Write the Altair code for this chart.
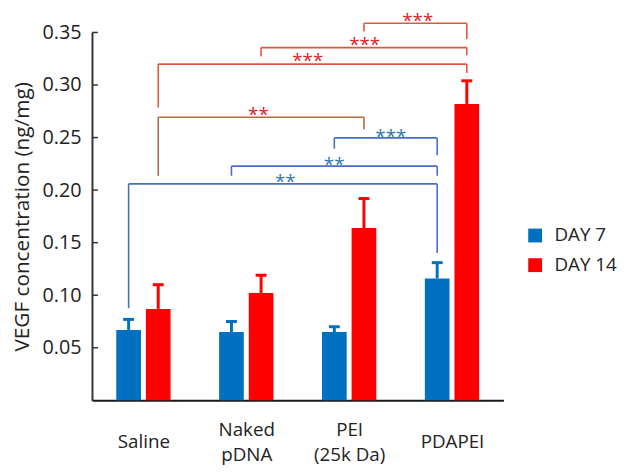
import json
import altair as alt
import pandas as pd

# ---------------- data ----------------
categories = ["Saline", "Naked\npDNA", "PEI\n(25k Da)", "PDAPEI"]
days = ["DAY 7", "DAY 14"]
day7_mean = [0.067, 0.065, 0.065, 0.116]
day7_err = [0.010, 0.010, 0.005, 0.015]
day14_mean = [0.087, 0.102, 0.164, 0.282]
day14_err = [0.023, 0.017, 0.028, 0.022]
y_ticks = [0.05, 0.10, 0.15, 0.20, 0.25, 0.30, 0.35]

# significance brackets: (from cat, from day, to cat, to day, top level,
# left leg end, right leg end, stars, star x (category units), star level, group)
br_from_cat = [2, 1, 0, 0, 2, 1, 0]
br_from_day = [1, 1, 1, 1, 0, 0, 0]
br_to_cat = [3, 3, 3, 2, 3, 3, 3]
br_to_day = [1, 1, 1, 1, 0, 0, 0]
br_top = [0.3587, 0.3356, 0.3199, 0.2694, 0.2497, 0.2228, 0.2059]
br_left_end = [0.3510, 0.3272, 0.2786, 0.2137, 0.2394, 0.2137, 0.0877]
br_right_end = [0.3437, 0.3284, 0.3115, 0.2576, 0.2331, 0.2137, 0.1401]
br_stars = ["***", "***", "***", "**", "***", "**", "**"]
br_star_x = [3.167, 2.651, 2.098, 1.618, 2.905, 2.354, 1.880]
br_star_y = [0.3660, 0.3428, 0.3272, 0.2764, 0.2551, 0.2290, 0.2121]
br_group = ["red", "red", "red", "brown", "blue", "blue", "blue"]

# ---------------- layout constants ----------------
OFF = 0.144      # bar centre offset from category centre (category units)
HALF = 0.12      # half bar width
CAP = 0.053      # half error-cap width
W, H = 416.4, 372.3
FONT = "Open Sans"


def xpos(cat, day):
    return cat + 0.5 + (-OFF if day == 0 else OFF)


bars = []
for d, (means, errs) in enumerate([(day7_mean, day7_err), (day14_mean, day14_err)]):
    for i, cat in enumerate(categories):
        xc = xpos(i, d)
        bars.append({"cat": cat, "day": days[d], "xc": xc, "xl": xc - HALF, "xr": xc + HALF,
                     "cl": xc - CAP, "cr": xc + CAP,
                     "mean": means[i], "top": means[i] + errs[i]})
bars_df = pd.DataFrame(bars)

segs = []
stars = []
for k in range(len(br_top)):
    xl = xpos(br_from_cat[k], br_from_day[k])
    xr = xpos(br_to_cat[k], br_to_day[k])
    g = br_group[k]
    segs.append({"g": g, "x": xl, "x2": xl, "y": br_left_end[k], "y2": br_top[k]})
    segs.append({"g": g, "x": xl, "x2": xr, "y": br_top[k], "y2": br_top[k]})
    segs.append({"g": g, "x": xr, "x2": xr, "y": br_top[k], "y2": br_right_end[k]})
    stars.append({"g": "blue" if g == "blue" else "red", "x": br_star_x[k],
                  "y": br_star_y[k], "t": br_stars[k]})
segs_df = pd.DataFrame(segs)
stars_df = pd.DataFrame(stars)
ticks_df = pd.DataFrame({"t": y_ticks})

label_expr = f"split({json.dumps(categories)}[floor(datum.value)], '\\n')"
multi_vals = [i + 0.5 for i, c in enumerate(categories) if "\n" in c]
multi_test = " || ".join(f"datum.value == {v}" for v in multi_vals)

xscale = alt.Scale(domain=[0, 4], nice=False, zero=False)
yscale = alt.Scale(domain=[0, 0.35], nice=False, zero=True)
color = alt.Color("day:N", scale=alt.Scale(domain=days, range=["#0070C0", "#FF0000"]),
                  legend=alt.Legend(title=None))

x_axis = alt.Axis(values=[0.5, 1.5, 2.5, 3.5], labelExpr=label_expr, ticks=False, tickSize=0,
                  grid=False, title=None, labelFont=FONT, labelFontSize=19, labelColor="#222",
                  labelBaseline="middle",
                  labelPadding={"condition": {"test": multi_test, "value": 30}, "value": 42},
                  labelLineHeight=25,
                  domainColor="#1a1a1a", domainWidth=2)
y_axis = alt.Axis(values=y_ticks, format=".2f", ticks=False, tickSize=0, grid=False,
                  labelFont=FONT, labelFontSize=20, labelColor="#222", labelPadding=11,
                  domainColor="#333", domainWidth=2,
                  title="VEGF concentration (ng/mg)", titleFont=FONT, titleFontSize=21,
                  titleFontWeight="normal", titleColor="#222", titleAngle=270,
                  titleAlign="center", titleBaseline="middle", titleX=-70, titleY=H / 2)

base = alt.Chart(bars_df)

bar_layer = base.mark_bar().encode(
    x=alt.X("xl:Q", scale=xscale, axis=x_axis), x2="xr:Q",
    y=alt.Y("mean:Q", scale=yscale, axis=y_axis), y2=alt.datum(0), color=color)

err_layer = base.mark_rule(strokeWidth=3).encode(
    x="xc:Q", y="mean:Q", y2="top:Q", color=color)

cap_layer = base.mark_rule(strokeWidth=3).encode(
    x="cl:Q", x2="cr:Q", y="top:Q", color=color)

tick_layer = alt.Chart(ticks_df).mark_rule(color="#333", strokeWidth=1.5).encode(
    y="t:Q", x=alt.value(0), x2=alt.value(6))

seg_base = alt.Chart(segs_df)
line_colors = {"red": "#E0583C", "brown": "#B8683F", "blue": "#4A6DC8"}
seg_layers = [
    seg_base.transform_filter(alt.datum.g == g).mark_rule(color=c, strokeWidth=1.6).encode(
        x="x:Q", x2="x2:Q", y="y:Q", y2="y2:Q")
    for g, c in line_colors.items()
]

star_colors = {"red": "#D8232A", "blue": "#2E78B0"}
star_layers = [
    alt.Chart(stars_df).transform_filter(alt.datum.g == g).mark_text(
        color=c, font=FONT, fontSize=19, baseline="middle", align="center", dy=5).encode(
        x="x:Q", y="y:Q", text="t:N")
    for g, c in star_colors.items()
]

chart = alt.layer(bar_layer, err_layer, cap_layer, tick_layer, *seg_layers, *star_layers).properties(
    width=W, height=H,
    autosize=alt.AutoSizeParams(type="none"),
    padding={"left": 85, "top": 22, "right": 120, "bottom": 63},
).configure_view(stroke=None).configure_legend(
    orient="none", legendX=439, legendY=196, symbolType="square", symbolSize=196,
    symbolStrokeWidth=0, labelFont=FONT, labelFontSize=19, labelColor="#222",
    rowPadding=10, padding=0, labelOffset=10,
)

chart.save("out.html", embed_options={"renderer": "svg", "actions": False})
